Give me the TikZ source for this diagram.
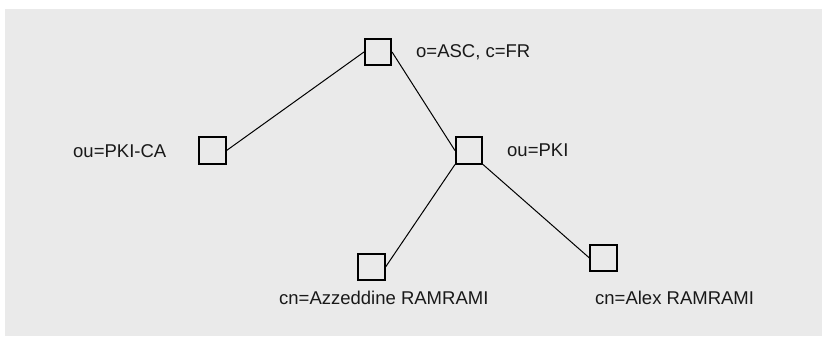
\documentclass[tikz,border=0pt]{standalone}
\usepackage{fontspec}
\setmainfont{Liberation Sans}
\definecolor{bggray}{HTML}{EAEAEA}
\begin{document}
\begin{tikzpicture}[x=1pt,y=-1pt,
  entry/.style={draw=black,line width=1.6pt,minimum size=26.5pt,inner sep=0pt,fill=bggray},
  lbl/.style={anchor=base west,inner sep=0pt,font=\fontsize{18.5}{20}\selectfont,text=black!90},
  link/.style={draw=black,line width=1pt}]
\useasboundingbox (0,0) rectangle (824,338);
\fill[bggray] (5,9) rectangle (822,336);
\node[entry] (root) at (378,52) {};
\node[entry] (pkica) at (212.5,150.5) {};
\node[entry] (pki) at (469,150.5) {};
\node[entry] (azz) at (371.5,267) {};
\node[entry] (alex) at (603.5,258) {};
\node[lbl] (lroot) at (416,57.5) {o=ASC, c=FR};
\node[lbl] (lpkica) at (73,157) {ou=PKI-CA};
\node[lbl] (lpki) at (507,156) {ou=PKI};
\node[lbl] (lazz) at (279,304) {cn=Azzeddine RAMRAMI};
\node[lbl] (lalex) at (595,304) {cn=Alex RAMRAMI};
\draw[link] (root.west) -- (pkica.east);
\draw[link] (root.east) -- (pki.west);
\draw[link] (pki.south west) -- (azz.east);
\draw[link] (pki.south east) -- (alex.west);
\end{tikzpicture}
\end{document}
